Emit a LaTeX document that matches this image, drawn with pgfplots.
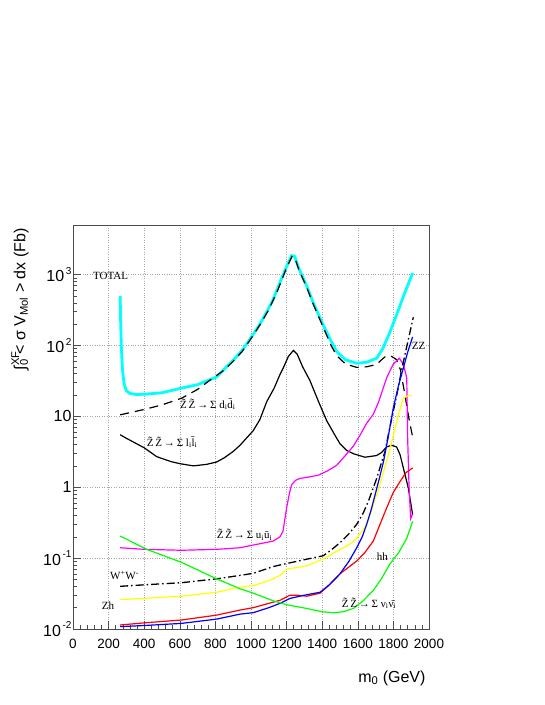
\documentclass[border=0pt]{standalone}
\usepackage{fontspec}
\setmainfont{Liberation Serif}
\setsansfont{Liberation Sans}
\usepackage{pgfplots}
\pgfplotsset{compat=1.18}
\definecolor{rcyan}{RGB}{0,255,255}
\definecolor{rmagenta}{RGB}{255,0,255}
\definecolor{ryellow}{RGB}{255,255,0}
\definecolor{rgreen}{RGB}{0,255,0}
\definecolor{rred}{RGB}{255,0,0}
\definecolor{rblue}{RGB}{0,0,255}

\newcommand{\rsup}[1]{\raisebox{0.45em}{\fontsize{10}{10}\selectfont\,#1}}
\newcommand{\ZZ}{\~{Z}\,\~{Z}\,→\,Σ}

\begin{document}
\begin{tikzpicture}[x=1pt,y=1pt]
\path[use as bounding box] (-73,-76) rectangle (472,629);
\begin{axis}[
    at={(0,0)}, anchor=south west,
    scale only axis,
    width=356pt, height=404pt,
    xmin=0, xmax=2000,
    ymode=log, ymin=0.01, ymax=5000,
    xtick={0,200,...,2000},
    xticklabels={0,200,400,600,800,1000,1200,1400,1600,1800,2000},
    minor x tick num=4,
    ytick={0.01,0.1,1,10,100,1000},
    yticklabels={10\rsup{-2},10\rsup{-1},1,10,10\rsup{2},10\rsup{3}},
    xtick pos=left, ytick pos=left,
    tick align=inside,
    major tick length=8pt, minor tick length=4pt,
    tick style={gray!60!black, line width=0.5pt},
    axis line style={gray!60!black, line width=0.7pt},
    grid=major,
    major grid style={dotted, gray!70, line width=0.5pt},
    xticklabel style={font=\fontsize{13.5}{14}\sffamily, yshift=-7pt},
    yticklabel style={font=\fontsize{16}{16}\sffamily, xshift=2pt},
    every axis x label/.style={at={(rel axis cs:1,0)}, anchor=base east, yshift=-53pt, font=\fontsize{16}{16}\sffamily},
    every axis y label/.style={at={(rel axis cs:0,1)}, xshift=-53pt, rotate=90, anchor=east, font=\fontsize{16}{16}\sffamily},
    xlabel={m\textsubscript{0} (GeV)},
    ylabel={∫\rlap{\textsuperscript{XF}}\textsubscript{0} < σ V\textsubscript{Mol} > dx (Fb)},
    clip=false,
]
% TOTAL
\addplot[rcyan, line width=2.8pt] coordinates {
(265,500) (268,200) (272,90) (278,45) (288,28) (300,23) (320,21) (360,20.3) (400,20.5)
(500,21.5) (610,25) (700,28) (807,36) (900,62) (950,85) (1010,140) (1050,200) (1088,297)
(1120,420) (1163,776) (1200,1300) (1228,1850) (1245,1800) (1270,1200) (1313,690)
(1350,400) (1406,193) (1450,115) (1481,82) (1530,63) (1594,56) (1650,58) (1706,66)
(1740,90) (1781,155) (1820,280) (1860,520) (1908,1050)};
% d dbar
\addplot[black, line width=1.2pt, dash pattern=on 9pt off 6pt] coordinates {
(265,10.5) (400,12.5) (500,14.5) (610,18) (700,24) (788,35) (850,45) (900,60) (950,82)
(1000,125) (1050,195) (1100,320) (1150,600) (1200,1250) (1230,1800) (1245,1750)
(1270,1150) (1313,660) (1350,380) (1406,180) (1450,100) (1481,72) (1530,55) (1594,49)
(1650,50) (1706,54) (1740,65) (1762,72) (1790,70) (1818,63) (1840,45) (1865,20)
(1885,10) (1908,5.1)};
% l lbar
\addplot[black, line width=1.2pt] coordinates {
(265,5.5) (300,4.9) (400,3.6) (470,2.7) (550,2.3) (600,2.15) (676,2.0) (750,2.1)
(807,2.27) (850,2.6) (900,3.2) (938,3.9) (1013,6.3) (1050,9) (1088,16) (1130,25)
(1163,39) (1181,48) (1210,70) (1238,85) (1260,75) (1290,50) (1331,32) (1380,16)
(1425,8.7) (1470,5.5) (1500,4.1) (1538,3.3) (1575,2.97) (1640,2.65) (1706,2.8)
(1734,3.1) (1762,3.7) (1790,3.9) (1818,3.7) (1837,2.9) (1860,1.7) (1884,0.97) (1908,0.41)};
% u ubar
\addplot[rmagenta, line width=1.2pt] coordinates {
(265,0.14) (400,0.133) (610,0.129) (807,0.133) (938,0.14) (1013,0.153) (1125,0.174)
(1163,0.2) (1180,0.24) (1190,0.35) (1200,0.51) (1215,0.8) (1228,1.08) (1250,1.25)
(1275,1.33) (1330,1.4) (1378,1.48) (1430,1.7) (1481,2.04) (1530,2.8) (1575,3.8)
(1612,5.4) (1650,8) (1687,10.7) (1715,15.5) (1762,35) (1800,55) (1833,66) (1855,55)
(1875,35) (1880,5) (1888,1) (1897,0.36) (1908,0.42)};
% W+W-
\addplot[black, line width=1.3pt, dash pattern=on 8pt off 3pt on 1.5pt off 3pt] coordinates {
(265,0.040) (400,0.042) (610,0.045) (807,0.051) (938,0.057) (1013,0.061) (1125,0.076)
(1163,0.08) (1300,0.095) (1406,0.108) (1450,0.13) (1500,0.165) (1550,0.22) (1594,0.30)
(1630,0.43) (1659,0.63) (1685,0.95) (1706,1.33) (1730,2.1) (1753,3.2) (1780,7)
(1800,12) (1819,20) (1850,50) (1880,110) (1912,250)};
% Zh
\addplot[ryellow, line width=1.2pt] coordinates {
(265,0.026) (400,0.027) (610,0.029) (807,0.033) (938,0.039) (1013,0.041) (1100,0.048)
(1163,0.057) (1200,0.07) (1250,0.073) (1313,0.078) (1406,0.097) (1470,0.12) (1519,0.14)
(1560,0.16) (1594,0.19) (1625,0.24) (1650,0.30) (1675,0.45) (1697,0.68) (1720,1.0)
(1744,1.65) (1781,3.5) (1800,5.5) (1830,11) (1856,18) (1880,19.5) (1903,19.7)};
% hh
\addplot[rred, line width=1.2pt] coordinates {
(265,0.0114) (400,0.0122) (610,0.0134) (807,0.0157) (938,0.0185) (1013,0.020)
(1100,0.023) (1163,0.0254) (1219,0.030) (1260,0.030) (1313,0.029) (1388,0.032)
(1440,0.042) (1500,0.060) (1550,0.075) (1594,0.091) (1640,0.12) (1687,0.174)
(1720,0.28) (1762,0.51) (1800,0.85) (1837,1.2) (1870,1.6) (1908,1.87)};
% ZZ
\addplot[rblue, line width=1.2pt] coordinates {
(265,0.0108) (400,0.0112) (610,0.012) (807,0.0138) (938,0.0162) (1013,0.017)
(1100,0.02) (1163,0.023) (1219,0.027) (1300,0.03) (1388,0.033) (1440,0.042)
(1500,0.060) (1550,0.09) (1594,0.14) (1625,0.2) (1650,0.30) (1675,0.48) (1697,0.78)
(1720,1.3) (1744,2.27) (1770,5) (1800,13.3) (1830,28) (1856,48) (1880,80) (1908,132)};
% nu nubar
\addplot[rgreen, line width=1.2pt] coordinates {
(265,0.205) (414,0.133) (610,0.087) (807,0.051) (938,0.037) (1013,0.032) (1125,0.025)
(1200,0.022) (1313,0.0195) (1400,0.0175) (1463,0.017) (1520,0.0175) (1575,0.0195)
(1630,0.025) (1687,0.035) (1730,0.05) (1781,0.083) (1830,0.12) (1875,0.19) (1908,0.33)};

\begin{scope}[every node/.style={font=\fontsize{11}{11}\rmfamily, inner sep=0pt, anchor=west}]
\node at (axis cs:112,950) {TOTAL};
\node at (axis cs:601,14.8) {\ZZ\ d\textsubscript{i}\={d}\textsubscript{i}};
\node at (axis cs:414,4.3) {\ZZ\ l\textsubscript{i}\={l}\textsubscript{i}};
\node at (axis cs:807,0.216) {\ZZ\ u\textsubscript{i}\={u}\textsubscript{i}};
\node at (axis cs:208,0.057) {W\textsuperscript{+}W\textsuperscript{-}};
\node at (axis cs:161,0.0216) {Zh};
\node at (axis cs:1706,0.105) {hh};
\node at (axis cs:1903,98) {ZZ};
\node at (axis cs:1509,0.023) {\ZZ\ ν\textsubscript{i}\={ν}\textsubscript{i}};
\end{scope}
\end{axis}
\end{tikzpicture}
\end{document}
